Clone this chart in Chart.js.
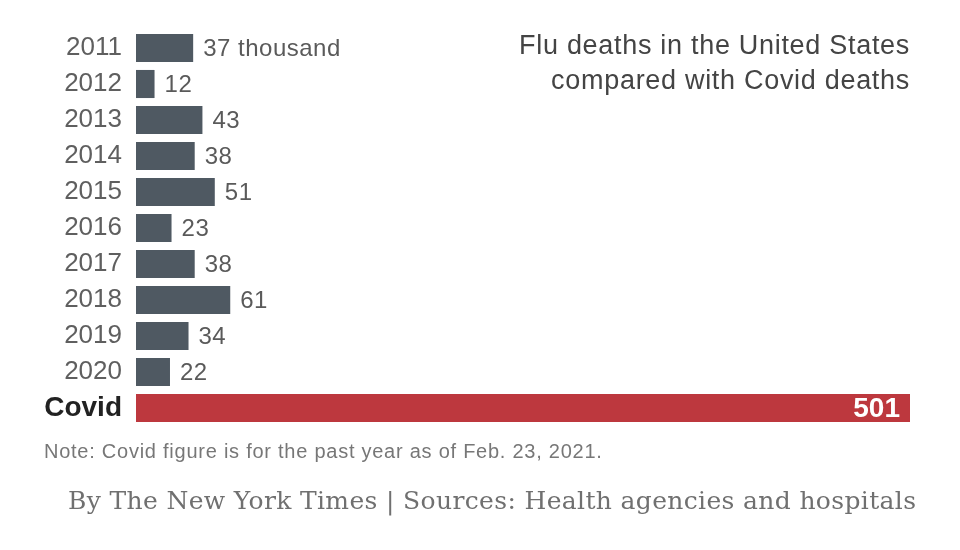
<!DOCTYPE html>
<html>
<head>
<meta charset="utf-8">
<script src="https://cdn.jsdelivr.net/npm/chart.js@4.4.1/dist/chart.umd.min.js"></script>
<style>
  html, body { margin: 0; padding: 0; background: #fff; }
  #wrap { position: relative; width: 960px; height: 550px; }
  #chart { position: absolute; left: 0; top: 0; }
  .txt { position: absolute; white-space: nowrap; }
  #title { right: 50px; top: 28px; text-align: right; font: 27px "Liberation Sans", Arial, sans-serif; letter-spacing: 0.7px; color: #444; line-height: 35px; }
  #note { left: 44px; top: 440px; font: 20px "Liberation Sans", Arial, sans-serif; letter-spacing: 0.75px; color: #777; }
  #credit { left: 68px; top: 486px; font: 25px "DejaVu Serif", "Liberation Serif", serif; letter-spacing: 0.35px; color: #707070; }
</style>
</head>
<body>
<div id="wrap">
  <canvas id="chart" width="960" height="550"></canvas>
  <div class="txt" id="title">Flu deaths in the United States<br>compared with Covid deaths</div>
  <div class="txt" id="note">Note: Covid figure is for the past year as of Feb. 23, 2021.</div>
  <div class="txt" id="credit">By The New York Times | Sources: Health agencies and hospitals</div>
</div>
<script>
const categories = ['2011', '2012', '2013', '2014', '2015', '2016', '2017', '2018', '2019', '2020', 'Covid'];
const deaths = [37, 12, 43, 38, 51, 23, 38, 61, 34, 22, 501];
const valueLabels = ['37 thousand', '12', '43', '38', '51', '23', '38', '61', '34', '22', '501'];

const GREY = '#4f5962';
const RED = '#bd383e';
const covidIdx = categories.indexOf('Covid');

const valueLabelPlugin = {
    id: 'valueLabels',
    afterDatasetsDraw(chart) {
        const { ctx } = chart;
        const meta = chart.getDatasetMeta(0);
        ctx.save();
        ctx.textBaseline = 'middle';
        meta.data.forEach((bar, i) => {
            if (i === covidIdx) {
                ctx.font = 'bold 28px "Liberation Sans", Arial, sans-serif';
                ctx.fillStyle = '#fff';
                ctx.textAlign = 'right';
                ctx.fillText(valueLabels[i], bar.x - 10, bar.y + 1);
            } else {
                ctx.font = '24px "Liberation Sans", Arial, sans-serif';
                ctx.letterSpacing = '0.5px';
                ctx.fillStyle = '#5a5a5a';
                ctx.textAlign = 'left';
                ctx.fillText(valueLabels[i], bar.x + 10, bar.y + 1);
                ctx.letterSpacing = '0px';
            }
        });
        ctx.restore();
    },
};

new Chart(document.getElementById('chart').getContext('2d'), {
    type: 'bar',
    data: {
        labels: categories,
        datasets: [{
            data: deaths,
            backgroundColor: categories.map((c, i) => (i === covidIdx ? RED : GREY)),
            borderWidth: 0,
            barPercentage: 0.78,
            categoryPercentage: 1,
        }],
    },
    options: {
        indexAxis: 'y',
        responsive: false,
        animation: false,
        layout: { padding: { left: 0, right: 50, top: 30, bottom: 124 } },
        plugins: { legend: { display: false }, tooltip: { enabled: false } },
        scales: {
            x: { display: false, min: 0, max: 501 },
            y: {
                grid: { display: false },
                border: { display: false },
                afterFit: (scale) => { scale.width = 136; },
                ticks: {
                    autoSkip: false,
                    padding: 6,
                    color: (c) => (c.index === covidIdx ? '#222' : '#5f5f5f'),
                    font: (c) => (c.index === covidIdx
                        ? { family: '"Liberation Sans", Arial, sans-serif', size: 28, weight: 'bold' }
                        : { family: '"Liberation Sans", Arial, sans-serif', size: 26 }),
                },
            },
        },
    },
    plugins: [valueLabelPlugin],
});
</script>
</body>
</html>
